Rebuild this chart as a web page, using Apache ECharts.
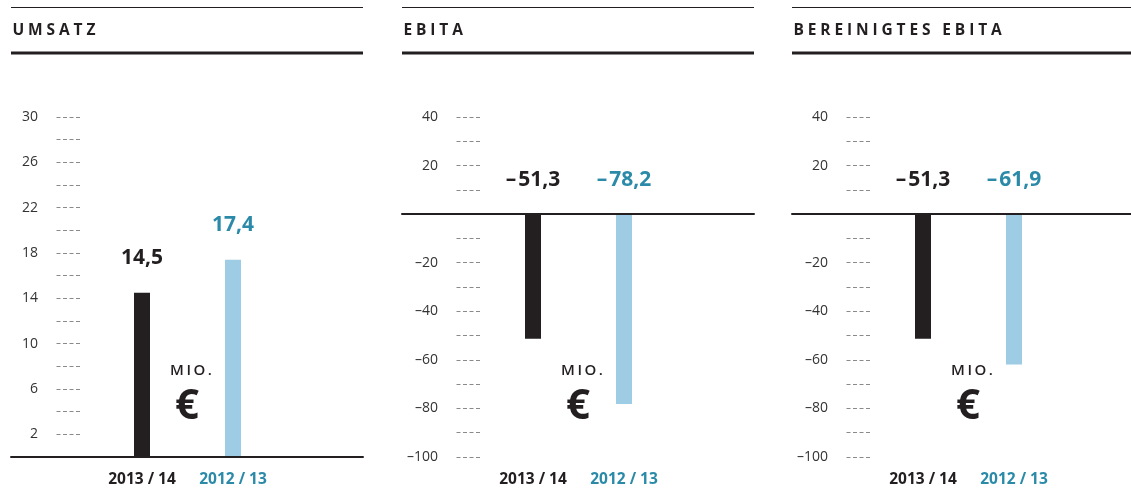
<!DOCTYPE html>
<html>
<head>
<meta charset="utf-8">
<script src="https://cdn.jsdelivr.net/npm/echarts@6/dist/echarts.min.js"></script>
<style>
  html, body { margin: 0; padding: 0; background: #fff; }
  #chart { width: 1131px; height: 489px; }
</style>
</head>
<body>
<div id="chart"></div>
<script>
// ---- data ----
const panelTitles = ['UMSATZ', 'EBITA', 'BEREINIGTES EBITA'];
const categories = ['2013 / 14', '2012 / 13'];
const umsatzValues = [14.5, 17.4];
const ebitaValues = [-51.3, -78.2];
const adjEbitaValues = [-51.3, -61.9];
const umsatzTickLabels = [2, 6, 10, 14, 18, 22, 26, 30];
const ebitaTickLabels = [-100, -80, -60, -40, -20, 20, 40];
const unitLabel = 'MIO.';
const currencyLabel = '€';

// ---- styling / layout ----
const DARK = '#231f20';
const BLUE = '#9dcce4';
const TEAL = '#2b8aa8';
const FONT = 'Open Sans';
const W = 1131, H = 489;
const panelLeft = [11, 402, 792];
const panelRight = [363, 754, 1131];
const axisX = [80, 480, 870];

const panels = [
  { values: umsatzValues, min: 0, max: 30, interval: 2, ticks: umsatzTickLabels },
  { values: ebitaValues, min: -100, max: 40, interval: 10, ticks: ebitaTickLabels },
  { values: adjEbitaValues, min: -100, max: 40, interval: 10, ticks: ebitaTickLabels }
];

function fmtValue(v) {
  return (v < 0 ? '\u2013\u200a' : '') + Math.abs(v).toFixed(1).replace('.', ',');
}
function fmtTick(v) {
  return (v < 0 ? '\u2013' : '') + Math.abs(v);
}
function spaced(s, sp) {
  return s.split('').join(sp);
}

const grid = [], xAxis = [], yAxis = [], series = [], graphic = [];
const GRID_TOP = 117, GRID_BOTTOM = 32;

panels.forEach((p, i) => {
  const barLeft = panelLeft[i] + 85.5;
  const barWidthPx = 182;
  grid.push({ left: barLeft, width: barWidthPx, top: GRID_TOP, bottom: GRID_BOTTOM });
  grid.push({ left: panelLeft[i], right: W - panelRight[i], top: GRID_TOP, bottom: GRID_BOTTOM });

  xAxis.push({
    type: 'category', gridIndex: 2 * i, data: categories,
    axisLine: { show: false, onZero: false }, axisTick: { show: false },
    axisLabel: {
      margin: 15, interval: 0, hideOverlap: false,
      formatter: (val, idx) => (idx === 0 ? '{a|' + val + '}' : '{b|' + val + '}'),
      rich: {
        a: { fontFamily: FONT, fontSize: 15.5, fontWeight: 'bold', color: DARK },
        b: { fontFamily: FONT, fontSize: 15.5, fontWeight: 'bold', color: TEAL }
      }
    }
  });
  xAxis.push({
    type: 'category', gridIndex: 2 * i + 1, data: categories, z: 10,
    axisLine: { show: true, onZero: true, lineStyle: { color: DARK, width: 2 } },
    axisTick: { show: false }, axisLabel: { show: false }
  });

  yAxis.push({
    type: 'value', gridIndex: 2 * i, min: p.min, max: p.max, interval: p.interval,
    position: 'left', offset: barLeft - axisX[i], z: 0,
    axisLine: { show: false },
    axisTick: { show: true, inside: false, length: 25, lineStyle: { color: '#8a8a8a', width: 1, type: [4, 2.5] } },
    splitLine: { show: false },
    axisLabel: {
      margin: 42, fontFamily: FONT, fontSize: 14, color: '#333',
      formatter: v => (p.ticks.indexOf(v) >= 0 ? fmtTick(v) : '')
    }
  });
  yAxis.push({
    type: 'value', gridIndex: 2 * i + 1, min: p.min, max: p.max, interval: p.interval, show: false
  });

  series.push({
    type: 'bar', xAxisIndex: 2 * i, yAxisIndex: 2 * i, barWidth: 16,
    data: p.values.map((v, k) => ({
      value: v,
      itemStyle: { color: k === 0 ? DARK : BLUE },
      label: { color: k === 0 ? DARK : TEAL }
    })),
    label: {
      show: true, position: 'top', distance: 24,
      fontFamily: FONT, fontSize: 21, fontWeight: 'bold',
      formatter: q => fmtValue(q.value)
    },
    silent: true
  });

  graphic.push({ type: 'line', z: 100, shape: { x1: panelLeft[i], y1: 7.5, x2: panelRight[i], y2: 7.5 }, style: { stroke: DARK, lineWidth: 1 } });
  graphic.push({ type: 'line', z: 100, shape: { x1: panelLeft[i], y1: 53, x2: panelRight[i], y2: 53 }, style: { stroke: DARK, lineWidth: 3 } });
  graphic.push({
    type: 'text', x: panelLeft[i] + 1.5, y: 31,
    style: { text: spaced(panelTitles[i], '\u2005'), fontFamily: FONT, fontSize: 15.5, fontWeight: 'bold', fill: DARK, verticalAlign: 'middle' }
  });
  const mid = panelLeft[i] + 177;
  graphic.push({
    type: 'text', x: mid + 3, y: 371,
    style: { text: spaced(unitLabel, '\u2006'), fontFamily: FONT, fontSize: 15, fontWeight: 600, fill: DARK, align: 'center', verticalAlign: 'middle' }
  });
  graphic.push({
    type: 'text', x: mid - 1, y: 407,
    style: { text: currencyLabel, fontFamily: FONT, fontSize: 42, fontWeight: 'bold', fill: DARK, align: 'center', verticalAlign: 'middle' }
  });
});

const chart = echarts.init(document.getElementById('chart'), null, { renderer: 'canvas' });
chart.setOption({
  animation: false,
  backgroundColor: '#fff',
  textStyle: { fontFamily: FONT },
  grid, xAxis, yAxis, series, graphic
});
</script>
</body>
</html>
